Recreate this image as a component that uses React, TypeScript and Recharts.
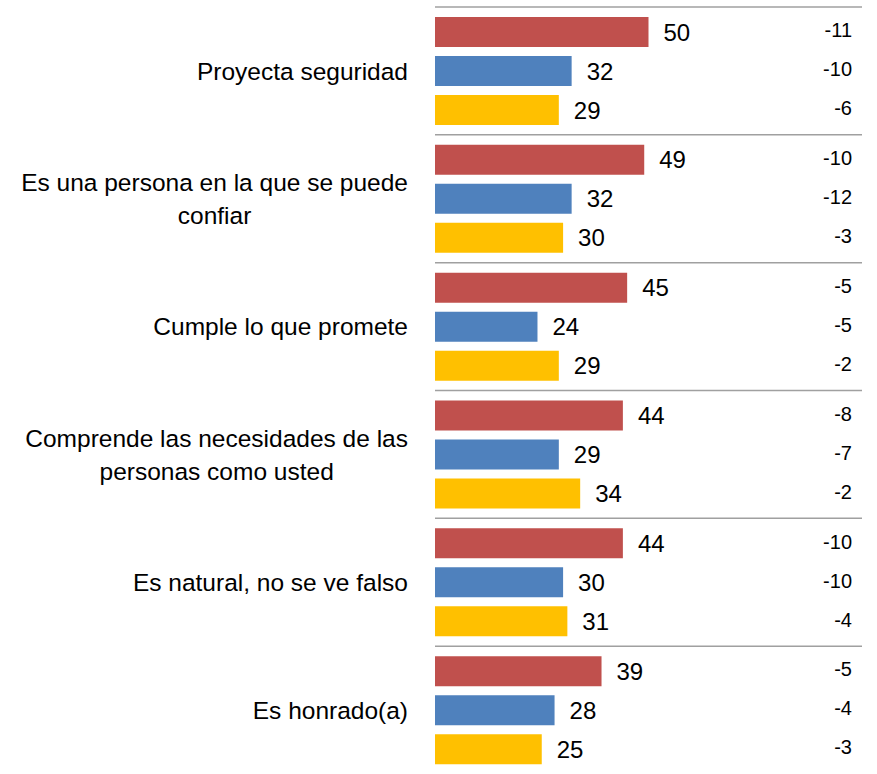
import React from 'react';
import { BarChart, Bar, XAxis, YAxis, LabelList, ReferenceLine } from 'recharts';

const categories = [
  'Proyecta seguridad',
  'Es una persona en la que se puede confiar',
  'Cumple lo que promete',
  'Comprende las necesidades de las personas como usted',
  'Es natural, no se ve falso',
  'Es honrado(a)',
];
const redValues = [50, 49, 45, 44, 44, 39];
const blueValues = [32, 32, 24, 29, 30, 28];
const yellowValues = [29, 30, 29, 34, 31, 25];
const redDiff = [-11, -10, -5, -8, -10, -5];
const blueDiff = [-10, -12, -5, -7, -10, -4];
const yellowDiff = [-6, -3, -2, -2, -4, -3];

const W = 877;
const H = 774;
const MARGIN = { top: 7, right: 15, bottom: 0, left: 0 };
const YAXIS_W = 435;
const PLOT_RIGHT = W - MARGIN.right;
const FONT = '"Liberation Sans", Arial, sans-serif';
const CAT_SIZE = 24.5;

const data = categories.map((name, i) => ({
  name,
  red: redValues[i],
  blue: blueValues[i],
  yellow: yellowValues[i],
  redDiff: redDiff[i],
  blueDiff: blueDiff[i],
  yellowDiff: yellowDiff[i],
}));

let ctx: CanvasRenderingContext2D | null = null;
const measure = (t: string) => {
  if (!ctx) {
    ctx = document.createElement('canvas').getContext('2d');
  }
  if (!ctx) return t.length * CAT_SIZE * 0.5;
  ctx.font = `${CAT_SIZE}px "Liberation Sans", Arial, sans-serif`;
  return ctx.measureText(t).width;
};

const wrap = (text: string, maxW: number) => {
  const words = text.split(' ');
  const lines: string[] = [];
  let cur = '';
  words.forEach((w) => {
    const test = cur ? cur + ' ' + w : w;
    if (measure(test) > maxW && cur) {
      lines.push(cur);
      cur = w;
    } else {
      cur = test;
    }
  });
  if (cur) lines.push(cur);
  return lines;
};

const CategoryTick = (props: any) => {
  const { x, y, payload } = props;
  const lines = wrap(String(payload.value), 400);
  const widths = lines.map(measure);
  const maxW = Math.max(...widths);
  const center = x - maxW / 2;
  const lh = 33;
  const startY = y - ((lines.length - 1) * lh) / 2;
  return (
    <g>
      {lines.map((l, i) => (
        <text
          key={i}
          x={center}
          y={startY + i * lh}
          dy="0.36em"
          textAnchor="middle"
          fontFamily={FONT}
          fontSize={CAT_SIZE}
          fill="#000"
        >
          {l}
        </text>
      ))}
    </g>
  );
};

const RightLabel = (props: any) => {
  const { y, height, value } = props;
  return (
    <text
      x={PLOT_RIGHT - 10}
      y={Number(y) + Number(height) / 2 - 2}
      dy="0.36em"
      textAnchor="end"
      fontFamily={FONT}
      fontSize={20}
      fill="#000"
    >
      {value}
    </text>
  );
};

const valueLabelStyle = { fontFamily: FONT, fontSize: 24, fill: '#000' };

export default function App() {
  return (
    <div style={{ position: 'absolute', left: 0, top: 0 }}>
      <BarChart
        width={W}
        height={H}
        data={data}
        layout="vertical"
        margin={MARGIN}
        barSize={30}
        barGap={9}
      >
        <XAxis type="number" domain={[0, 100]} hide />
        <YAxis
          type="category"
          dataKey="name"
          width={YAXIS_W}
          axisLine={false}
          tickLine={false}
          tickSize={0}
          tickMargin={27}
          tick={<CategoryTick />}
          interval={0}
        />
        {categories.map((c) => (
          <ReferenceLine key={c} y={c} position="start" stroke="#A0A0A0" strokeWidth={1.5} />
        ))}
        <Bar dataKey="red" fill="#C0504D" isAnimationActive={false}>
          <LabelList dataKey="red" position="right" offset={15} style={valueLabelStyle} />
          <LabelList dataKey="redDiff" content={<RightLabel />} />
        </Bar>
        <Bar dataKey="blue" fill="#4F81BD" isAnimationActive={false}>
          <LabelList dataKey="blue" position="right" offset={15} style={valueLabelStyle} />
          <LabelList dataKey="blueDiff" content={<RightLabel />} />
        </Bar>
        <Bar dataKey="yellow" fill="#FFC000" isAnimationActive={false}>
          <LabelList dataKey="yellow" position="right" offset={15} style={valueLabelStyle} />
          <LabelList dataKey="yellowDiff" content={<RightLabel />} />
        </Bar>
      </BarChart>
    </div>
  );
}
